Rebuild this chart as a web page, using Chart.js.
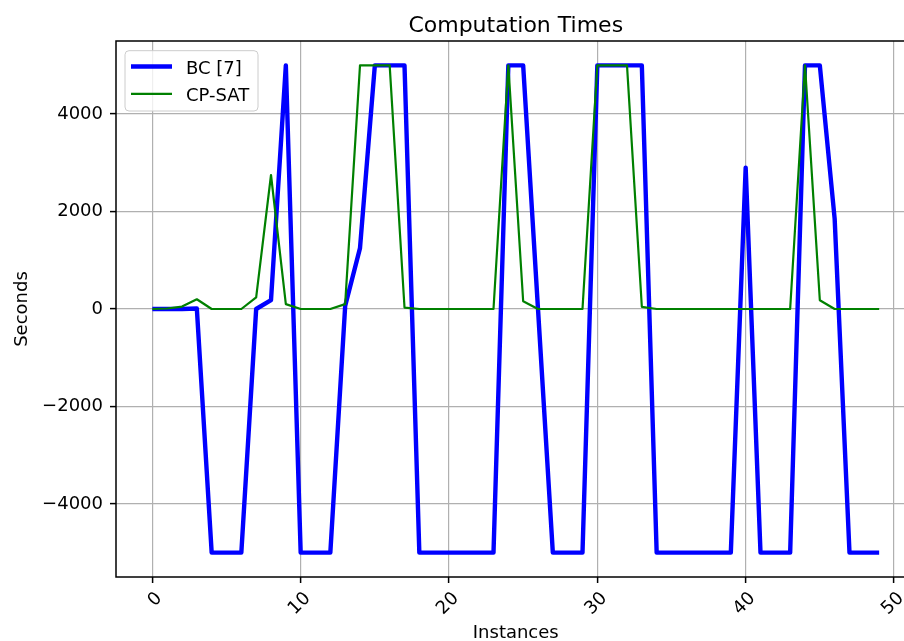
<!DOCTYPE html>
<html>
<head>
<meta charset="utf-8">
<title>Computation Times</title>
<script src="https://cdn.jsdelivr.net/npm/chart.js@4.4.1/dist/chart.umd.min.js"></script>
<style>
  html, body { margin: 0; padding: 0; background: #fff; overflow: hidden; }
  #wrap { position: relative; width: 960px; height: 680px; }
</style>
</head>
<body>
<div id="wrap"><canvas id="times-chart"></canvas></div>
<script>
const instances = [0, 1, 2, 3, 4, 5, 6, 7, 8, 9,
    10, 11, 12, 13, 14, 15, 16, 17, 18, 19,
    20, 21, 22, 23, 24, 25, 26, 27, 28, 29,
    30, 31, 32, 33, 34, 35, 36, 37, 38, 39,
    40, 41, 42, 43, 44, 45, 46, 47, 48, 49];

const bcTimes = [0, 0, 0, 10, -5000, -5000, -5000, 0, 180, 5000,
    -5000, -5000, -5000, 60, 1250, 5000, 5000, 5000, -5000, -5000,
    -5000, -5000, -5000, -5000, 5000, 5000, 0, -5000, -5000, -5000,
    5000, 5000, 5000, 5000, -5000, -5000, -5000, -5000, -5000, -5000,
    2900, -5000, -5000, -5000, 5000, 5000, 1850, -5000, -5000, -5000];

const cpSatTimes = [0, 10, 50, 200, 0, 0, 0, 240, 2750, 100,
    0, 0, 0, 100, 5000, 5000, 5000, 30, 0, 0,
    0, 0, 0, 0, 5000, 160, 0, 0, 0, 0,
    5000, 5000, 5000, 45, 0, 0, 0, 0, 0, 0,
    0, 0, 0, 0, 5000, 180, 0, 0, 0, 0];

const xTicks = [0, 10, 20, 30, 40, 50];
const yTicks = [-4000, -2000, 0, 2000, 4000];
const seriesNames = ['BC [7]', 'CP-SAT'];

const FONT = "'DejaVu Sans', sans-serif";
const blue = '#0000ff';
const green = '#008000';

Chart.defaults.font.family = FONT;
Chart.defaults.color = '#000';

// spines, legend box and title, drawn over the lines like matplotlib does
const frameLegend = {
    id: 'frameLegend',
    afterDatasetsDraw(chart) {
        const { ctx, chartArea: a } = chart;
        ctx.save();
        ctx.strokeStyle = '#000';
        ctx.lineWidth = 1.5;
        ctx.strokeRect(a.left, a.top, a.right - a.left, a.bottom - a.top);

        const lx = a.left + 9, ly = a.top + 9.7, lw = 133, lh = 60.3;
        ctx.beginPath();
        ctx.roundRect(lx, ly, lw, lh, 4);
        ctx.fillStyle = 'rgba(255,255,255,0.8)';
        ctx.fill();
        ctx.strokeStyle = '#cccccc';
        ctx.lineWidth = 1;
        ctx.stroke();

        const colors = [blue, green];
        const widths = [4.4, 2.2];
        ctx.font = '18px ' + FONT;
        ctx.textBaseline = 'alphabetic';
        ctx.textAlign = 'left';
        seriesNames.forEach((name, i) => {
            const y = ly + 15.8 + i * 27.4;
            ctx.beginPath();
            ctx.moveTo(lx + 6, y);
            ctx.lineTo(lx + 47, y);
            ctx.strokeStyle = colors[i];
            ctx.lineWidth = widths[i];
            ctx.stroke();
            ctx.fillStyle = '#000';
            ctx.fillText(name, lx + 61, y + 7);
        });

        ctx.font = '22px ' + FONT;
        ctx.textAlign = 'center';
        ctx.fillText('Computation Times', (a.left + a.right) / 2, a.top - 9.3);
        ctx.restore();
    }
};

function renderTimesChart() {
    const ctx = document.getElementById('times-chart');

    new Chart(ctx, {
        type: 'line',
        data: {
            datasets: [
                {
                    label: seriesNames[0],
                    data: instances.map((x, i) => ({ x, y: bcTimes[i] })),
                    borderColor: blue,
                    borderWidth: 4.4,
                    pointRadius: 0,
                    borderJoinStyle: 'round',
                    order: 2
                },
                {
                    label: seriesNames[1],
                    data: instances.map((x, i) => ({ x, y: cpSatTimes[i] })),
                    borderColor: green,
                    borderWidth: 2.2,
                    pointRadius: 0,
                    borderJoinStyle: 'round',
                    order: 1
                }
            ]
        },
        options: {
            responsive: true,
            maintainAspectRatio: false,
            animation: false,
            layout: { padding: { top: 41, left: 0, right: 44.5, bottom: 30 } },
            plugins: {
                legend: { display: false },
                tooltip: { enabled: false },
                title: { display: false }
            },
            scales: {
                x: {
                    type: 'linear',
                    min: -2.45,
                    max: 51.45,
                    afterBuildTicks: s => { s.ticks = xTicks.map(v => ({ value: v })); },
                    afterFit: s => { s.height = 73; },
                    border: { display: false },
                    grid: { color: '#b0b0b0', lineWidth: 1.2, tickLength: 6, tickColor: '#000', tickWidth: 1.5 },
                    ticks: {
                        autoSkip: false,
                        minRotation: 45,
                        maxRotation: 45,
                        padding: 5,
                        labelOffset: 7,
                        font: { size: 18 },
                        color: '#000'
                    },
                    title: { display: true, text: 'Instances', font: { size: 18 }, color: '#000', padding: { top: 0, bottom: 5.4 } }
                },
                y: {
                    min: -5500,
                    max: 5500,
                    afterBuildTicks: s => { s.ticks = yTicks.map(v => ({ value: v })); },
                    afterFit: s => { s.width = 116; },
                    border: { display: false },
                    grid: { color: '#b0b0b0', lineWidth: 1.2, tickLength: 6, tickColor: '#000', tickWidth: 1.5 },
                    ticks: {
                        padding: 7,
                        font: { size: 18 },
                        color: '#000',
                        callback: v => (v < 0 ? '\u2212' + Math.abs(v) : String(v))
                    },
                    title: { display: true, text: 'Seconds', font: { size: 18 }, color: '#000', padding: { top: 11.3, bottom: 0 } }
                }
            }
        },
        plugins: [frameLegend]
    });
}

document.addEventListener('DOMContentLoaded', renderTimesChart);
</script>
</body>
</html>
